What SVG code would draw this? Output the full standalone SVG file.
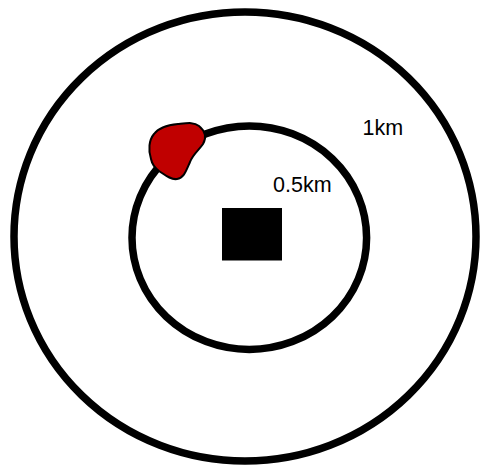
<svg xmlns="http://www.w3.org/2000/svg" width="480" height="465" viewBox="0 0 480 465">
<style>
.ring{fill:none;stroke:#000;stroke-width:7.5}
.lbl{font-family:"Liberation Sans",Arial,sans-serif;font-size:21.5px;fill:#000}
</style>
<rect width="480" height="465" fill="#fff"/>
<g id="outer-ring"><ellipse class="ring" cx="245" cy="236.5" rx="231" ry="224.5"/></g>
<g id="inner-ring"><ellipse class="ring" cx="249.3" cy="237.7" rx="117.3" ry="111.7"/></g>
<g id="site"><rect x="222" y="208" width="60" height="52.5" fill="#000"/></g>
<g id="blob"><path d="M151,159 C148,150 149,140 154,134 C159,127 168,125 178,124 C188,123 194,122 199,126 C205,131 207,137 203,144 C199,150 193,154 190,162 C186,171 184,178 177,179 C171,180 165,175 159,171 C155,168 152,164 151,159 Z" fill="#C00000" stroke="#000" stroke-width="2"/></g>
<g id="labels">
<text class="lbl" x="362.5" y="135">1km</text>
<text class="lbl" x="273" y="191.5">0.5km</text>
</g>
</svg>
